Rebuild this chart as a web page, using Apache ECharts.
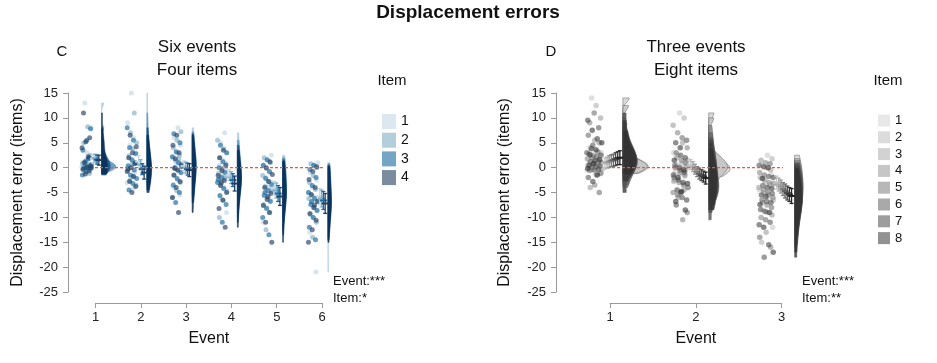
<!DOCTYPE html>
<html><head><meta charset="utf-8">
<script src="https://cdn.jsdelivr.net/npm/echarts@6/dist/echarts.min.js"></script>
<style>html,body{margin:0;padding:0;background:#fff}#c{width:937px;height:363px}</style>
</head><body><div id="c"></div>
<script>
const FONT = '"Liberation Sans", Arial, sans-serif';

// ---------- categories / ticks ----------
const C_events = [1, 2, 3, 4, 5, 6];
const D_events = [1, 2, 3];
const C_items = ['1', '2', '3', '4'];
const D_items = ['1', '2', '3', '4', '5', '6', '7', '8'];

// ---------- Panel C raw displacement errors: [event][item][values] ----------
const C_event1 = [
  [13, 8, 3, 1.2, 0.8, 0.4, 0.1, 0, -0.2, -0.5, -0.8, 0.2],
  [8.2, 5, 2.5, 1.5, 0.9, 0.6, 0.3, 0.1, 0, -0.3, -1.2, 0.4],
  [7.8, 5.5, 3.5, 2, 1.2, 0.6, 0.2, 0, -0.2, -0.8, -1.5, 1.8],
  [11, 6, 5.2, 4, 2.2, 1, 0.4, 0.1, -0.4, -0.7, -1.3, 0]
];
const C_event2 = [
  [15, 9, 6, 4.5, 3, 1.5, 0, -1, -2, -3, -4.2, 2],
  [11, 7, 5, 3.8, 2.4, 1, 0.2, -0.6, -1.8, -2.6, -3.5, 0.8],
  [8, 5.5, 4, 2.8, 1.6, 0.4, -0.5, -1.5, -2.2, -3.2, -4.5, 1],
  [6.5, 4.2, 3, 2, 0.8, 0, -0.8, -1.8, -2.8, -3.8, -5, -0.3]
];
const C_event3 = [
  [8, 6, 4.5, 3, 2, 1, 0, -1, -2.5, -4, -5.5, 0.5],
  [7.2, 5.5, 4, 2.5, 1.4, 0.3, -0.6, -1.6, -3, -4.6, -6, 1.8],
  [6.8, 5, 3.2, 2.2, 1, 0, -1, -2.2, -3.5, -5, -7, 0.2],
  [6.5, 4.5, 3, 1.8, 0.6, -0.5, -1.5, -2.8, -4, -6, -9, -0.2]
];
const C_event4 = [
  [7, 5, 3, 1.5, 0.5, -0.5, -1.5, -2.5, -4, -6, -9, -1],
  [5.5, 3.8, 2, 0.8, -0.2, -1.2, -2.2, -3.4, -4.8, -6.6, -10, -1.8],
  [4.5, 3, 1.2, 0, -1, -2, -3, -4.2, -5.6, -7.4, -11, -2.4],
  [3.5, 2, 0.5, -0.6, -1.6, -2.6, -3.6, -5, -6.5, -8.2, -12, -3]
];
const C_event5 = [
  [2.5, 1.5, 0.5, -1, -2, -3, -4, -5, -6.5, -8, -11, -3.5],
  [2, 1, -0.2, -1.6, -2.8, -3.8, -4.8, -6, -7.4, -9, -12.5, -4.4],
  [1.6, 0.5, -0.8, -2.2, -3.4, -4.6, -5.6, -6.8, -8.2, -10, -13.5, -5],
  [1.2, 0, -1.4, -2.8, -4, -5.2, -6.4, -7.6, -9, -11, -15, -5.8]
];
const C_event6 = [
  [1, 0.5, -1, -2.5, -4, -5, -6, -7, -8.5, -10, -13, -21],
  [0.8, 0, -1.6, -3, -4.4, -5.6, -6.8, -8, -9.4, -11, -14, -6.2],
  [0.5, -0.4, -2, -3.6, -5, -6.2, -7.4, -8.6, -10, -12, -14.5, -6.8],
  [0.2, -0.8, -2.4, -4, -5.4, -6.8, -8, -9.2, -10.6, -12.5, -15, -7.5]
];
const C_means = [
  [1.8, 1.9, 1.6, 1.5],
  [1.2, 0.6, -0.3, -1.0],
  [0.3, 0.0, -0.3, -0.5],
  [-1.5, -2.0, -2.5, -3.2],
  [-4.2, -4.6, -5.2, -5.8],
  [-5.8, -6.2, -6.6, -7.2]
];
const C_se = [
  [0.9, 0.8, 0.9, 1.0],
  [1.2, 1.0, 1.1, 1.3],
  [1.0, 1.1, 1.2, 1.3],
  [1.1, 1.2, 1.3, 1.5],
  [1.4, 1.5, 1.6, 1.8],
  [1.6, 1.7, 1.8, 2.0]
];

// ---------- Panel D raw displacement errors ----------
const D_event1 = [
  [14, 3, 1.5, 0.9, 0.4, 0, -0.5, -1.2],
  [12.5, 4, 1.6, 1, 0.5, 0.1, -0.4, -1.1],
  [10, 5.5, 2.8, 1.2, 0.3, -0.3, -1.5, -4],
  [9, 5, 2.5, 1.8, 0.6, 0.1, -1.2, -3.5],
  [11, 6.5, 3.2, 2, 1, 0.2, -0.6, -5],
  [8, 4.5, 3, 2.2, 1.2, 0.4, -0.5, -2],
  [9.5, 5.8, 3.8, 2.5, 1.4, 0.5, -0.4, -2.8],
  [7.5, 5, 3.6, 2.6, 1.6, 0.8, -0.2, -1.5]
];
const D_event2 = [
  [11, 3, 1.4, 0.6, 0, -0.5, -1, -1.8],
  [10, 2.5, 1.5, 0.7, 0.1, -0.6, -1.3, -2.8],
  [8.5, 5, 2, 0.3, -1, -2.5, -4.5, -6],
  [7, 4, 1.5, 0, -1.5, -3, -5, -10.5],
  [6, 3, 1, -0.5, -2, -3.5, -5.5, -9],
  [5.5, 2.5, 0.5, -1, -2.5, -4, -6, -7.5],
  [5, 2, 0, -1.5, -3, -4.5, -6.5, -5],
  [4, 1.5, -0.5, -2, -3.2, -4.8, -6.8, -8.5]
];
const D_event3 = [
  [2.5, 0.5, -1.5, -3, -4.5, -6, -8.5, -12],
  [1.8, 0, -2, -3.5, -5, -6.5, -9, -15],
  [1.5, -0.5, -2.5, -4, -5.5, -7, -9.5, -13],
  [1, -1, -3, -4.5, -6, -7.5, -10, -16],
  [0.8, -1.5, -3.2, -5, -6.5, -8, -10.5, -14],
  [0.5, -1.8, -3.6, -5.2, -6.8, -8.4, -11, -18],
  [0.2, -2, -4, -5.5, -7, -8.8, -11.5, -15.5],
  [0, -2.2, -4.2, -5.8, -7.4, -9, -12, -17]
];
const D_means = [
  [0.8, 1.0, 1.2, 1.4, 1.5, 1.7, 1.9, 2.0],
  [0.6, 0.2, -0.3, -0.8, -1.2, -1.5, -1.8, -2.1],
  [-3.0, -3.4, -3.8, -4.3, -4.7, -5.1, -5.4, -5.7]
];
const D_se = [
  [1.1, 1.1, 1.2, 1.2, 1.2, 1.3, 1.3, 1.4],
  [1.0, 1.0, 1.0, 1.0, 1.1, 1.1, 1.1, 1.2],
  [1.3, 1.3, 1.3, 1.3, 1.4, 1.4, 1.4, 1.5]
];

// ---------- styles ----------
const C_colors = ['#c5d7e4', '#82afc5', '#17699e', '#233e61'];
const C_legendColors = ['#dce7ef', '#b4cfdc', '#74a5c5', '#7b8ba0'];
const C_violinFill = ['#a9c6dc', '#5b93bb', '#0f4f86', '#06294f'];
const D_colors = ['#c4c4c4', '#aaaaaa', '#949494', '#7c7c7c', '#646464', '#4c4c4c', '#363636', '#222222'];
const D_violinFill = ['#d6d6d6', '#c4c4c4', '#8a8a8a', '#6a6a6a', '#525252', '#444444', '#3a3a3a', '#333333'];
const D_legendColors = ['#e8e8e8', '#dcdcdc', '#d2d2d2', '#c6c6c6', '#b8b8b8', '#a9a9a9', '#9d9d9d', '#929292'];

const C_data = [C_event1, C_event2, C_event3, C_event4, C_event5, C_event6];
const D_data = [D_event1, D_event2, D_event3];

function frac(v) { return v - Math.floor(v); }

function bwNrd0(a) {
  const n = a.length, m = a.reduce((s, v) => s + v, 0) / n;
  const sd = Math.sqrt(a.reduce((s, v) => s + (v - m) * (v - m), 0) / (n - 1));
  const s = a.slice().sort((x, y) => x - y);
  const q = p => { const h = (n - 1) * p, l = Math.floor(h); return s[l] + (h - l) * ((s[l + 1] ?? s[l]) - s[l]); };
  const iqr = q(0.75) - q(0.25);
  let lo = Math.min(sd, iqr / 1.34);
  if (!(lo > 0)) lo = sd || 1;
  return 0.9 * lo * Math.pow(n, -0.2);
}
function kdePoly(vals, base, scale) {
  const bw = bwNrd0(vals);
  const mn = Math.min(...vals), mx = Math.max(...vals);
  const N = 60, pts = [[base, mn]];
  for (let k = 0; k <= N; k++) {
    const y = mn + (mx - mn) * k / N;
    let d = 0;
    for (const v of vals) { const z = (y - v) / bw; d += Math.exp(-0.5 * z * z); }
    d /= vals.length * bw * Math.sqrt(2 * Math.PI);
    pts.push([base + d * scale, y]);
  }
  pts.push([base, mx]);
  return pts;
}

function buildPanel(P) {
  const scatter = P.items.map(() => []);
  const errs = [];
  const polys = [];
  const violData = [];
  P.data.forEach((ev, e) => {
    const ex = P.events[e];
    ev.forEach((vals, it) => {
      vals.forEach((v, i) => {
        const j = frac(0.31 + i * 0.618034 + it * 0.2917 + e * 0.137);
        scatter[it].push([ex + P.jitLo + j * (P.jitHi - P.jitLo), v]);
      });
      const m = P.means[e][it], s = P.se[e][it];
      errs.push([ex + P.errStart + P.errStep * it, m, m - s, m + s, it]);
      polys.push(kdePoly(vals, ex + P.violBase, P.violScale));
      violData.push([ex, 0, polys.length - 1, it]);
    });
  });
  violData.sort((a, b) => a[3] - b[3]);
  return { scatter, errs, polys, violData };
}

const PC = { events: C_events, items: C_items, data: C_data, means: C_means, se: C_se,
  jitLo: -0.31, jitHi: -0.09, errStart: -0.05, errStep: 0.04, violBase: 0.13, violScale: 1.0 };
const PD = { events: D_events, items: D_items, data: D_data, means: D_means, se: D_se,
  jitLo: -0.27, jitHi: -0.09, errStart: -0.06, errStep: 0.025, violBase: 0.15, violScale: 1.3 };
const bc = buildPanel(PC), bd = buildPanel(PD);

function errRender(colors) {
  return function (params, api) {
    const x = api.value(0), m = api.value(1), lo = api.value(2), hi = api.value(3), it = api.value(4);
    const pm = api.coord([x, m]), pl = api.coord([x, lo]), ph = api.coord([x, hi]);
    const col = colors[it];
    const st = { stroke: col, lineWidth: 1.3 };
    return { type: 'group', children: [
      { type: 'line', shape: { x1: pl[0], y1: pl[1], x2: ph[0], y2: ph[1] }, style: st },
      { type: 'line', shape: { x1: pl[0] - 2, y1: pl[1], x2: pl[0] + 2, y2: pl[1] }, style: st },
      { type: 'line', shape: { x1: ph[0] - 2, y1: ph[1], x2: ph[0] + 2, y2: ph[1] }, style: st },
      { type: 'line', shape: { x1: pm[0] - 3.5, y1: pm[1], x2: pm[0] + 3.5, y2: pm[1] }, style: { stroke: col, lineWidth: 2 } }
    ] };
  };
}
function violRender(polys, fills, opacity, stroke, lw) {
  return function (params, api) {
    const idx = api.value(2), it = api.value(3);
    const pts = polys[idx].map(p => api.coord(p));
    return { type: 'polygon', shape: { points: pts },
      style: { fill: fills[it], opacity: opacity, stroke: stroke || fills[it], lineWidth: lw } };
  };
}

function yAxisCfg(grid, off, gap) {
  return { type: 'value', gridIndex: grid, min: -25, max: 15, interval: 5, offset: off,
    name: 'Displacement error (items)', nameLocation: 'middle', nameGap: gap, nameRotate: 90,
    nameTextStyle: { fontSize: 16, color: '#111', fontFamily: FONT },
    axisLine: { show: true, onZero: false, lineStyle: { color: '#9a9a9a', width: 1 } },
    axisTick: { show: true, length: 5, lineStyle: { color: '#9a9a9a' } },
    axisLabel: { fontSize: 13, color: '#222', margin: 10, fontFamily: FONT },
    splitLine: { show: false } };
}
function xAxisCfg(grid, max) {
  return { type: 'value', gridIndex: grid, min: 1, max: max, interval: 1, offset: 11,
    name: 'Event', nameLocation: 'middle', nameGap: 28,
    nameTextStyle: { fontSize: 16, color: '#111', fontFamily: FONT },
    axisLine: { show: true, onZero: false, lineStyle: { color: '#9a9a9a', width: 1 } },
    axisTick: { show: true, length: 5, lineStyle: { color: '#9a9a9a' } },
    axisLabel: { fontSize: 13, color: '#222', margin: 8, fontFamily: FONT },
    splitLine: { show: false } };
}

const zeroStyle = { color: '#ea5a2a', width: 1.2, type: [3, 2] };
const series = [];
// Panel C
series.push({ type: 'custom', name: 'Cviol', xAxisIndex: 0, yAxisIndex: 0, z: 2, clip: false,
  renderItem: violRender(bc.polys, C_violinFill, 0.8, null, 0.6), data: bc.violData, silent: true });
C_items.forEach((it, i) => series.push({ type: 'scatter', name: 'C' + it, xAxisIndex: 0, yAxisIndex: 0, z: 3, clip: false,
  symbolSize: 5, itemStyle: { color: C_colors[i], opacity: 0.65 }, data: bc.scatter[i], silent: true }));
series.push({ type: 'custom', name: 'Cerr', xAxisIndex: 0, yAxisIndex: 0, z: 4, clip: false,
  renderItem: errRender(C_colors), data: bc.errs, silent: true });
series.push({ type: 'line', name: 'Czero', xAxisIndex: 0, yAxisIndex: 0, z: 5, clip: false, symbol: 'none', silent: true,
  lineStyle: zeroStyle, data: [[0.432, 0], [6.354, 0]] });
// Panel D
series.push({ type: 'custom', name: 'Dviol', xAxisIndex: 1, yAxisIndex: 1, z: 2, clip: false,
  renderItem: violRender(bd.polys, D_violinFill, 0.9, '#555555', 0.5), data: bd.violData, silent: true });
D_items.forEach((it, i) => series.push({ type: 'scatter', name: 'D' + it, xAxisIndex: 1, yAxisIndex: 1, z: 3, clip: false,
  symbolSize: 5.5, itemStyle: { color: D_colors[i], opacity: 0.55 }, data: bd.scatter[i], silent: true }));
series.push({ type: 'custom', name: 'Derr', xAxisIndex: 1, yAxisIndex: 1, z: 4, clip: false,
  renderItem: errRender(D_colors), data: bd.errs, silent: true });
series.push({ type: 'line', name: 'Dzero', xAxisIndex: 1, yAxisIndex: 1, z: 5, clip: false, symbol: 'none', silent: true,
  lineStyle: zeroStyle, data: [[0.383, 0], [3.33, 0]] });

function txt(t, x, y, size, extra) {
  return { type: 'text', x: x, y: y, silent: true,
    style: Object.assign({ text: t, fontSize: size, fontFamily: FONT, fill: '#111', textAlign: 'center', textVerticalAlign: 'middle' }, extra || {}) };
}

const option = {
  animation: false,
  backgroundColor: '#fff',
  textStyle: { fontFamily: FONT },
  grid: [
    { left: 95.7, top: 93, width: 226.3, height: 199 },
    { left: 610, top: 93, width: 171.7, height: 199 }
  ],
  xAxis: [xAxisCfg(0, 6), xAxisCfg(1, 3)],
  yAxis: [yAxisCfg(0, 27.7, 42), yAxisCfg(1, 54, 43)],
  legend: [
    { left: 377, top: 109, orient: 'vertical', itemWidth: 14, itemHeight: 15, itemGap: 3.7, icon: 'rect', selectedMode: false,
      textStyle: { fontSize: 14, color: '#111', fontFamily: FONT }, formatter: n => n.slice(1),
      data: C_items.map((it, i) => ({ name: 'C' + it, itemStyle: { color: C_legendColors[i], opacity: 1 } })) },
    { left: 873, top: 109, orient: 'vertical', itemWidth: 12, itemHeight: 12, itemGap: 3.8, icon: 'rect', selectedMode: false,
      textStyle: { fontSize: 13, color: '#111', fontFamily: FONT }, formatter: n => n.slice(1),
      data: D_items.map((it, i) => ({ name: 'D' + it, itemStyle: { color: D_legendColors[i], opacity: 1 } })) }
  ],
  graphic: [
    txt('Displacement errors', 468, 13, 19, { fontWeight: 'bold' }),
    txt('C', 62, 52, 15),
    txt('Six events', 197, 47, 17),
    txt('Four items', 197, 70, 17),
    txt('D', 551, 52, 15),
    txt('Three events', 696, 47, 17),
    txt('Eight items', 696, 70, 17),
    txt('Item', 392, 81, 15),
    txt('Item', 888, 81, 15),
    txt('Event:***', 333, 281, 13, { textAlign: 'left' }),
    txt('Item:*', 333, 298, 13, { textAlign: 'left' }),
    txt('Event:***', 802, 281, 13, { textAlign: 'left' }),
    txt('Item:**', 802, 298, 13, { textAlign: 'left' })
  ],
  series: series
};

const chart = echarts.init(document.getElementById('c'), null, { renderer: 'canvas' });
chart.setOption(option);
</script>
</body></html>
